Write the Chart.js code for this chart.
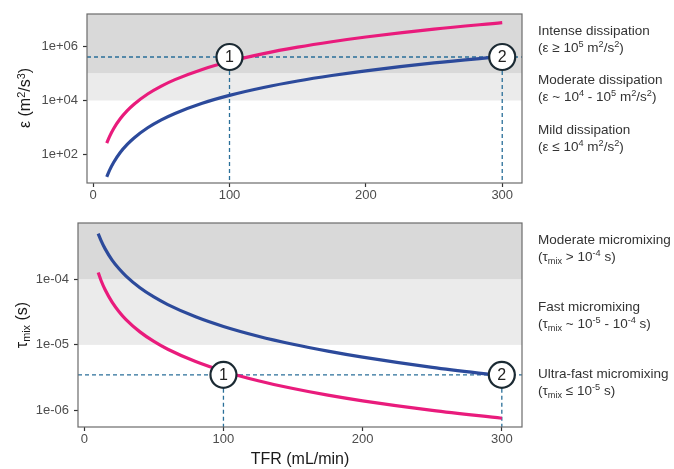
<!DOCTYPE html>
<html lang="en">
<head>
    <meta charset="UTF-8">
    <title>Energy dissipation and micromixing time vs TFR</title>
    <script src="https://cdn.jsdelivr.net/npm/chart.js"></script>
    <style>
        body {
            margin: 0;
            background: #fff;
            font-family: "Liberation Sans", Arial, sans-serif;
        }
        #page {
            position: relative;
            width: 674px;
            height: 469px;
            overflow: hidden;
        }
        canvas { position: absolute; left: 0; }
        #topChart { top: 0; }
        #bottomChart { top: 205px; }

        /* rotated y axis titles */
        .ytitle {
            position: absolute;
            transform: translate(-50%, -50%) rotate(-90deg);
            font-size: 16px;
            color: #1a1a1a;
            white-space: nowrap;
        }
        /* regime notes on the right */
        .note {
            position: absolute;
            left: 538px;
            font-size: 13.5px;
            line-height: 17px;
            color: #333;
            white-space: nowrap;
        }
        sup, sub { font-size: 0.68em; line-height: 0; }
        sup { vertical-align: 0.5em; }
        sub { vertical-align: -0.3em; }
    </style>
</head>
<body>
<div id="page">
    <canvas id="topChart" width="674" height="205"></canvas>
    <canvas id="bottomChart" width="674" height="264"></canvas>

    <div class="ytitle" style="left:25px; top:98px;">ε (m<sup>2</sup>/s<sup>3</sup>)</div>
    <div class="ytitle" style="left:22px; top:325px;">τ<sub>mix</sub> (s)</div>

    <div class="note" style="top:22px;">Intense dissipation<br>(ε ≥ 10<sup>5</sup> m<sup>2</sup>/s<sup>2</sup>)</div>
    <div class="note" style="top:71px;">Moderate dissipation<br>(ε ~ 10<sup>4</sup> - 10<sup>5</sup> m<sup>2</sup>/s<sup>2</sup>)</div>
    <div class="note" style="top:121px;">Mild dissipation<br>(ε ≤ 10<sup>4</sup> m<sup>2</sup>/s<sup>2</sup>)</div>

    <div class="note" style="top:231px;">Moderate micromixing<br>(τ<sub>mix</sub> &gt; 10<sup>-4</sup> s)</div>
    <div class="note" style="top:298px;">Fast micromixing<br>(τ<sub>mix</sub> ~ 10<sup>-5</sup> - 10<sup>-4</sup> s)</div>
    <div class="note" style="top:365px;">Ultra-fast micromixing<br>(τ<sub>mix</sub> ≤ 10<sup>-5</sup> s)</div>
</div>

<script>
// total flow rate (mL/min)
const tfr = [10, 12, 15, 20, 25, 30, 40, 50, 60, 80, 100, 125, 150, 175, 200, 250, 300];

// energy dissipation rate (m2/s3)
const epsPink = [272, 470, 918, 2176, 4250, 7344, 17400, 34000, 58750, 139300, 272000, 531000, 918000, 1458000, 2176000, 4250000, 7344000];
const epsBlue = [15.5, 26.8, 52.3, 124, 242, 419, 992, 1938, 3348, 7936, 15500, 30270, 52310, 83070, 124000, 242200, 418500];

// micromixing time (s)
const tauPink = [1.26e-4, 9.59e-5, 6.86e-5, 4.46e-5, 3.19e-5, 2.42e-5, 1.575e-5, 1.127e-5, 8.57e-6, 5.57e-6, 3.98e-6, 2.85e-6, 2.17e-6, 1.72e-6, 1.41e-6, 1.01e-6, 7.67e-7];
const tauBlue = [4.90e-4, 3.86e-4, 2.87e-4, 1.94e-4, 1.43e-4, 1.11e-4, 7.37e-5, 5.34e-5, 4.09e-5, 2.67e-5, 1.905e-5, 1.354e-5, 1.021e-5, 8.03e-6, 6.50e-6, 4.55e-6, 3.39e-6];

// axes
const xTicks = [0, 100, 200, 300];
const topYTicks = [1e2, 1e4, 1e6];
const topYTickLabels = ['1e+02', '1e+04', '1e+06'];
const bottomYTicks = [1e-6, 1e-5, 1e-4];
const bottomYTickLabels = ['1e-06', '1e-05', '1e-04'];

// regime band edges (lower, upper)
const topBandEdges = [1e4, 1e5];
const bottomBandEdges = [1e-5, 1e-4];

// numbered operating points
const markerX = [100, 300];
const markerLabels = ['1', '2'];
const topRefY = 4.0e5;
const bottomRefY = 3.5e-6;

const PINK = '#e91b7c';
const BLUE = '#2c4a9b';
const GUIDE = '#2a6f99';

function toPoints(values) {
  return tfr.map((x, i) => ({ x: x, y: values[i] }));
}

// shaded bands, dashed guides, numbered circles and the panel frame
const panelDeco = {
  id: 'panelDeco',
  beforeDatasetsDraw(chart, args, opts) {
    const { ctx, chartArea: a, scales: { x, y } } = chart;
    const yLow = y.getPixelForValue(opts.bands[0]);
    const yHigh = y.getPixelForValue(opts.bands[1]);
    ctx.save();
    ctx.fillStyle = '#ebebeb';
    ctx.fillRect(a.left, yHigh, a.width, yLow - yHigh);
    ctx.fillStyle = '#d9d9d9';
    ctx.fillRect(a.left, a.top, a.width, yHigh - a.top);

    const yr = y.getPixelForValue(opts.refY);
    ctx.strokeStyle = GUIDE;
    ctx.lineWidth = 1.3;
    ctx.setLineDash([4, 3]);
    ctx.beginPath();
    ctx.moveTo(a.left, yr);
    ctx.lineTo(a.right, yr);
    opts.markerX.forEach(v => {
      const px = x.getPixelForValue(v);
      ctx.moveTo(px, yr);
      ctx.lineTo(px, a.bottom);
    });
    ctx.stroke();
    ctx.restore();
  },
  afterDatasetsDraw(chart, args, opts) {
    const { ctx, scales: { x, y } } = chart;
    const yr = y.getPixelForValue(opts.refY);
    ctx.save();
    opts.markerX.forEach((v, i) => {
      const px = x.getPixelForValue(v);
      ctx.beginPath();
      ctx.arc(px, yr, 13, 0, Math.PI * 2);
      ctx.fillStyle = '#fff';
      ctx.fill();
      ctx.lineWidth = 2.2;
      ctx.strokeStyle = '#1b2a33';
      ctx.stroke();
      ctx.fillStyle = '#222';
      ctx.font = '16px "Liberation Sans", Arial, sans-serif';
      ctx.textAlign = 'center';
      ctx.textBaseline = 'middle';
      ctx.fillText(opts.markerLabels[i], px, yr + 1);
    });
    ctx.restore();
  },
  afterDraw(chart) {
    const { ctx, chartArea: a } = chart;
    ctx.save();
    ctx.strokeStyle = '#6b6b6b';
    ctx.lineWidth = 1.2;
    ctx.strokeRect(a.left, a.top, a.width, a.height);
    ctx.restore();
  }
};

function makePanel(canvasId, cfg) {
  const tickFont = { family: '"Liberation Sans", Arial, sans-serif', size: 13 };
  return new Chart(document.getElementById(canvasId), {
    type: 'line',
    data: {
      datasets: [
        { data: toPoints(cfg.pink), borderColor: PINK },
        { data: toPoints(cfg.blue), borderColor: BLUE }
      ]
    },
    options: {
      responsive: false,
      animation: false,
      devicePixelRatio: 1,
      layout: { padding: { left: 0, right: 152, top: cfg.padTop, bottom: 0 } },
      elements: {
        point: { radius: 0 },
        line: { borderWidth: 3.2, cubicInterpolationMode: 'monotone', fill: false }
      },
      scales: {
        x: {
          type: 'linear',
          min: -4.5,
          max: 314.5,
          afterBuildTicks: s => { s.ticks = xTicks.map(v => ({ value: v })); },
          afterFit: s => { s.height = cfg.xHeight; },
          grid: { drawOnChartArea: false, tickLength: 4, tickColor: '#333', tickWidth: 1.2 },
          border: { display: false },
          ticks: { color: '#4d4d4d', font: tickFont, padding: 1, maxRotation: 0 },
          title: cfg.xTitle
            ? { display: true, text: 'TFR (mL/min)', color: '#1a1a1a',
                font: { family: '"Liberation Sans", Arial, sans-serif', size: 16 },
                padding: { top: 0, bottom: 0 } }
            : { display: false }
        },
        y: {
          type: 'logarithmic',
          min: cfg.yMin,
          max: cfg.yMax,
          afterBuildTicks: s => { s.ticks = cfg.yTicks.map(v => ({ value: v })); },
          afterFit: s => { s.width = cfg.yWidth; },
          grid: { drawOnChartArea: false, tickLength: 4, tickColor: '#333', tickWidth: 1.2 },
          border: { display: false },
          ticks: {
            color: '#4d4d4d',
            font: tickFont,
            padding: 5,
            callback: (v, i) => cfg.yTickLabels[i]
          }
        }
      },
      plugins: {
        legend: { display: false },
        tooltip: { enabled: false },
        panelDeco: {
          bands: cfg.bands,
          refY: cfg.refY,
          markerX: markerX,
          markerLabels: markerLabels
        }
      }
    },
    plugins: [panelDeco]
  });
}

// Top panel: energy dissipation rate
makePanel('topChart', {
  pink: epsPink, blue: epsBlue,
  yMin: 9.2, yMax: 1.53e7,
  yTicks: topYTicks, yTickLabels: topYTickLabels,
  bands: topBandEdges, refY: topRefY,
  padTop: 14, yWidth: 87, xHeight: 22, xTitle: false
});

// Bottom panel: micromixing time
makePanel('bottomChart', {
  pink: tauPink, blue: tauBlue,
  yMin: 5.65e-7, yMax: 7.1e-4,
  yTicks: bottomYTicks, yTickLabels: bottomYTickLabels,
  bands: bottomBandEdges, refY: bottomRefY,
  padTop: 18, yWidth: 78, xHeight: 42, xTitle: true
});
</script>
</body>
</html>
